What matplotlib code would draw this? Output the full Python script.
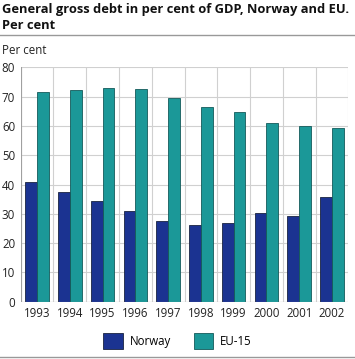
import matplotlib
matplotlib.use("Agg")
import matplotlib.pyplot as plt
import numpy as np
from matplotlib.patches import Patch
from matplotlib.lines import Line2D

years = ["1993", "1994", "1995", "1996", "1997", "1998", "1999", "2000", "2001", "2002"]
norway = [40.8, 37.4, 34.5, 30.9, 27.6, 26.3, 26.8, 30.2, 29.2, 35.6]
eu15 = [71.5, 72.3, 72.9, 72.5, 69.5, 66.4, 64.7, 60.9, 60.0, 59.2]
series_names = ["Norway", "EU-15"]
colors = ["#1b3391", "#1b9898"]
yticks = [0, 10, 20, 30, 40, 50, 60, 70, 80]

plt.rcParams['font.family'] = ['Open Sans', 'DejaVu Sans']

W, H = 355, 359
fig = plt.figure(figsize=(W / 100, H / 100), dpi=100)
ax = fig.add_axes([20.7 / W, 1 - 301.7 / H, (348.3 - 20.7) / W, (301.7 - 67.4) / H])

x = np.arange(len(years))
bw = 0.36
ax.bar(x - bw / 2, norway, width=bw, color=colors[0], edgecolor="#1a2340", linewidth=0.6, zorder=3)
ax.bar(x + bw / 2, eu15, width=bw, color=colors[1], edgecolor="#145a5a", linewidth=0.6, zorder=3)

ax.set_xlim(-0.5, len(years) - 0.5)
ax.set_ylim(0, 80)
ax.set_yticks(yticks)
ax.set_yticklabels([str(v) for v in yticks])
ax.set_xticks(x)
ax.set_xticklabels(years)
ax.tick_params(axis='both', length=0, labelsize=8.3, colors="#222222")
ax.tick_params(axis='x', pad=3.5)
ax.tick_params(axis='y', pad=4)

for v in yticks:
    ax.axhline(v, color="#d0d0d0", linewidth=0.8, zorder=1)
for b in np.arange(-0.5, len(years), 1.0):
    ax.axvline(b, color="#d0d0d0", linewidth=0.8, zorder=1)
for s in ax.spines.values():
    s.set_visible(False)
ax.axvline(-0.5, color="#a0a0a0", linewidth=0.8, zorder=4)
ax.axhline(0, color="#a0a0a0", linewidth=0.8, zorder=4)

fig.text(2 / W, 1 - 17.5 / H, "General gross debt in per cent of GDP, Norway and EU.\nPer cent",
         fontsize=9.3, fontweight='bold', color="#111111", va='center', ha='left', linespacing=1.3)
fig.add_artist(Line2D([0, 1], [1 - 35 / H, 1 - 35 / H], color="#999999", linewidth=1.0))
fig.text(2 / W, 1 - 51 / H, "Per cent", fontsize=8.3, color="#222222", va='center', ha='left')
fig.add_artist(Line2D([0, 1], [1 - 357 / H, 1 - 357 / H], color="#999999", linewidth=1.0))

handles = [Patch(facecolor=colors[0], edgecolor="#1a2340", linewidth=0.6),
           Patch(facecolor=colors[1], edgecolor="#145a5a", linewidth=0.6)]
fig.legend(handles, series_names, loc='center', bbox_to_anchor=(0.5, 1 - 341 / H), ncol=2,
           frameon=False, fontsize=8.3, handlelength=1.7, handleheight=1.8, columnspacing=2.0,
           handletextpad=0.6)

fig.savefig("out.png", dpi=100)
